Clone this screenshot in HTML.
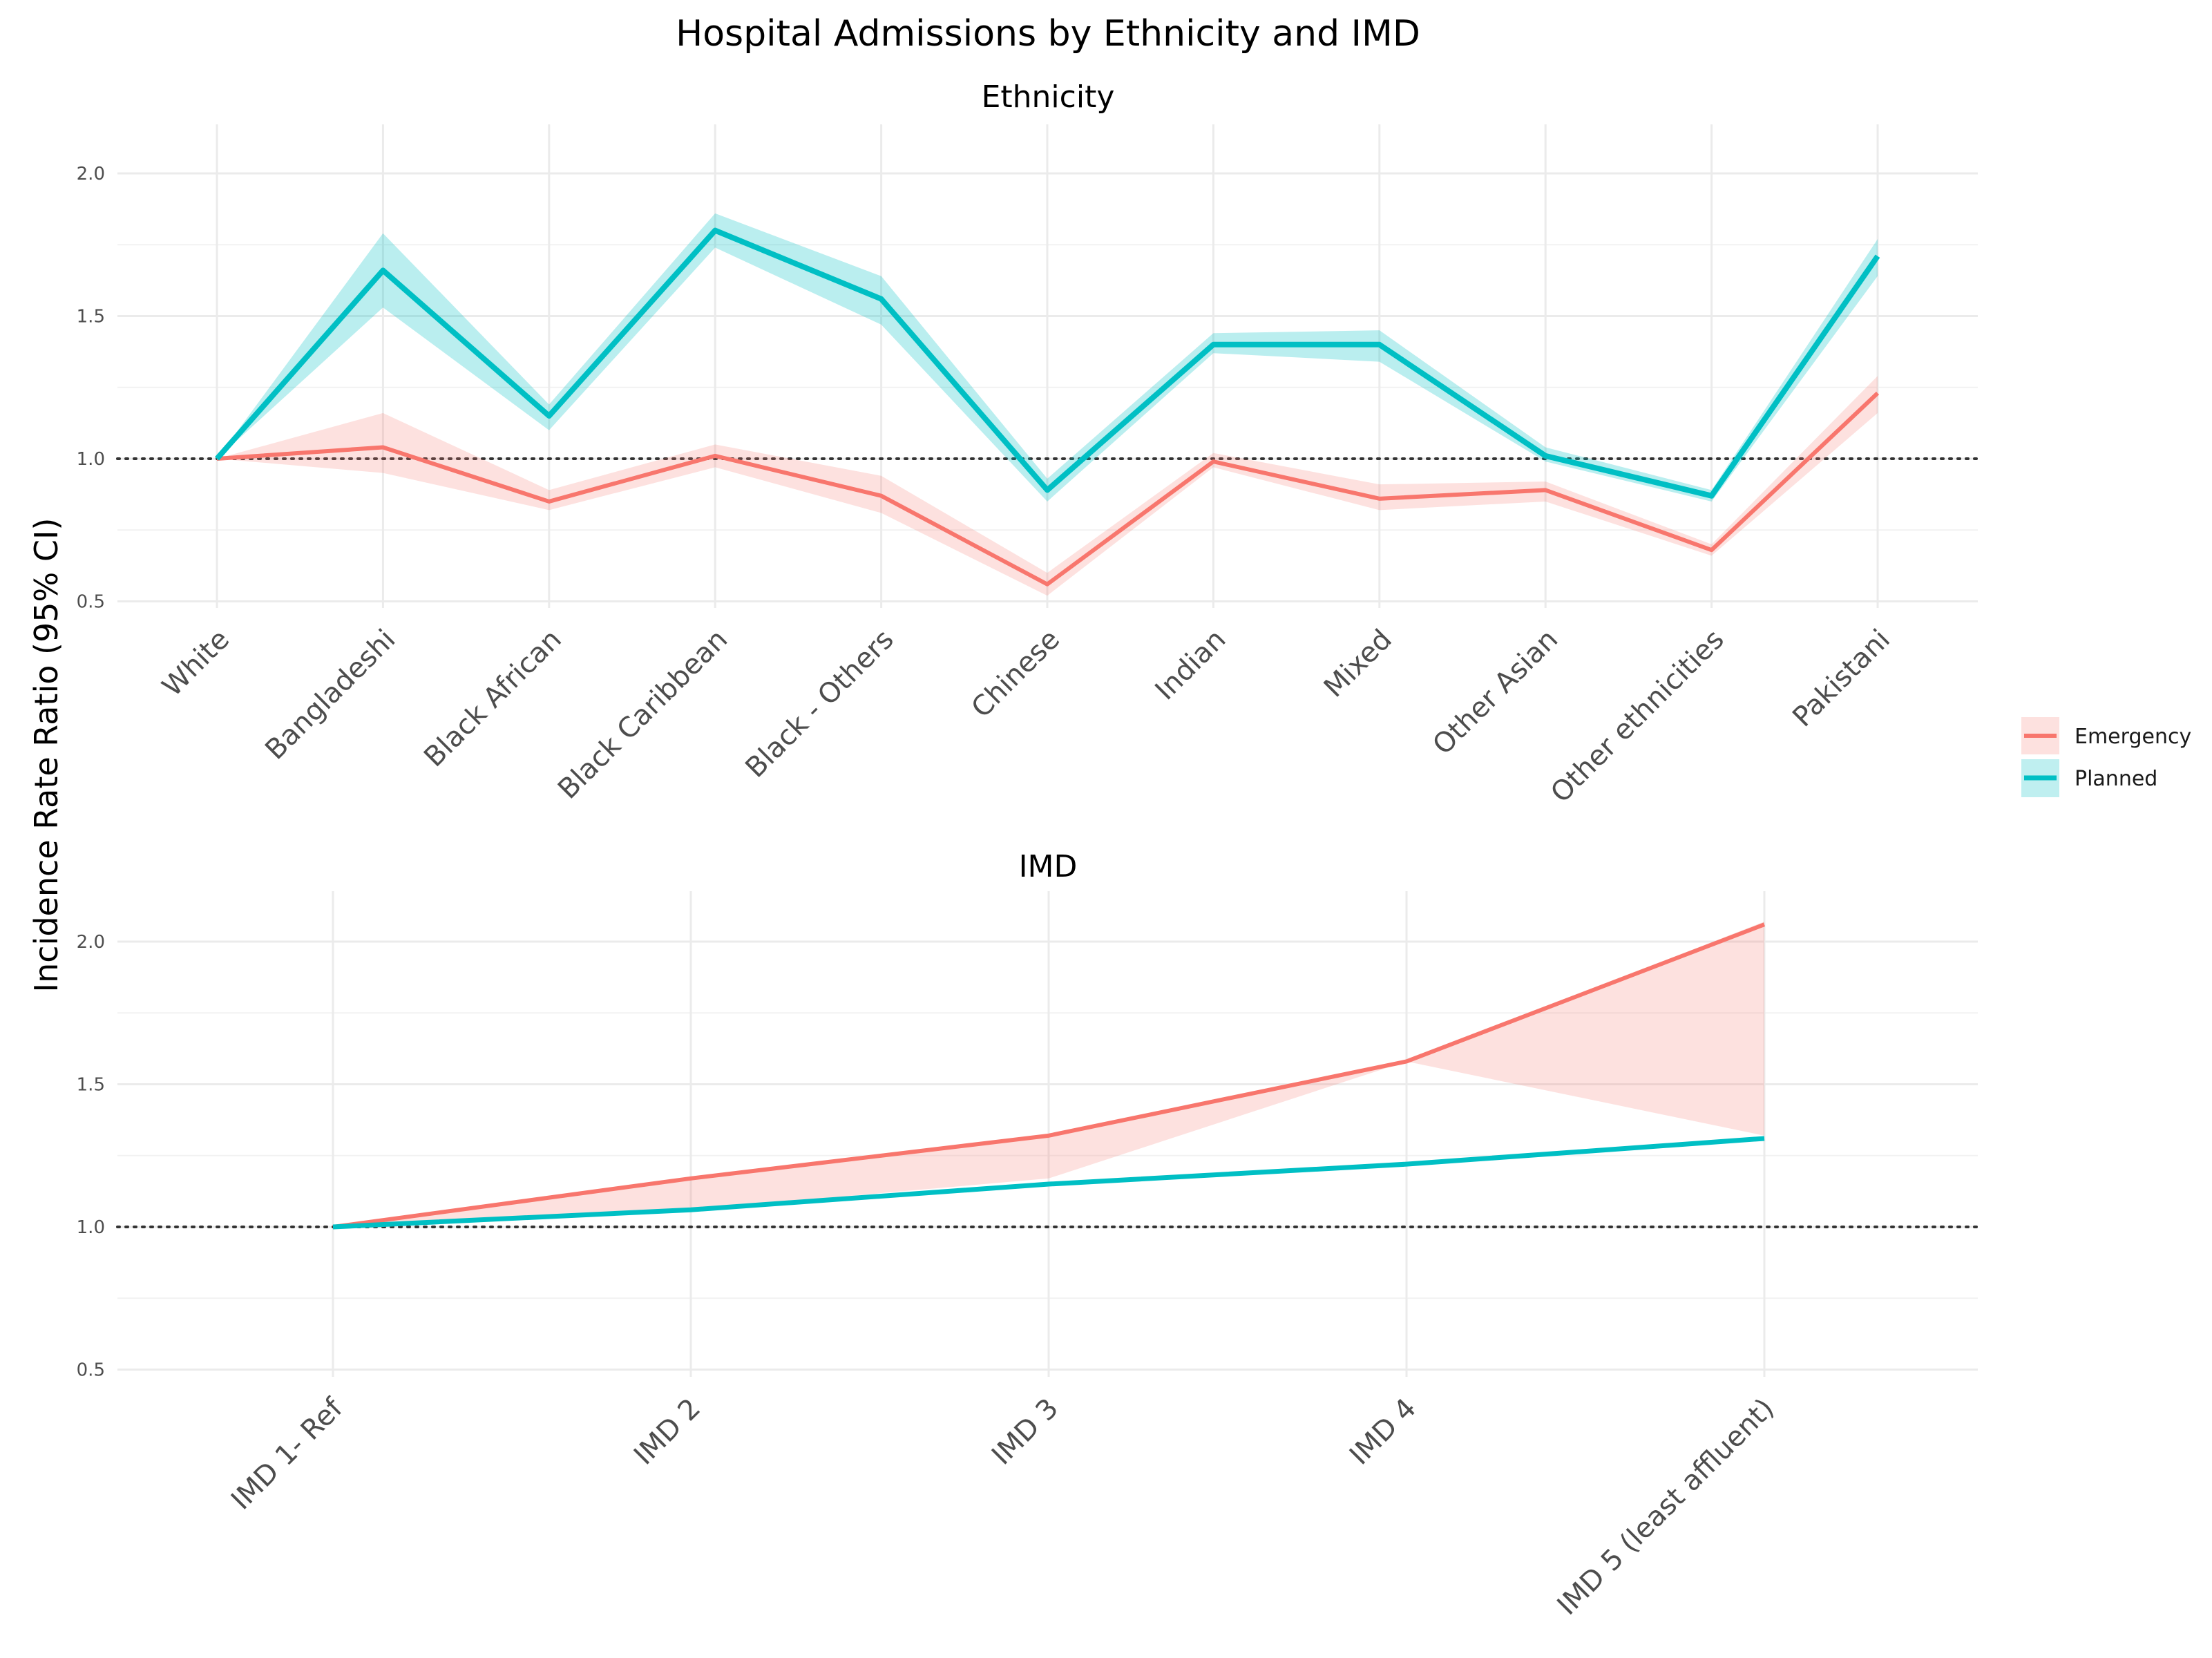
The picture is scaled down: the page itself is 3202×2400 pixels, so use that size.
<!DOCTYPE html>
<html><head><meta charset="utf-8"><style>
html,body{margin:0;padding:0;background:#fff;}
svg{display:block;font-family:"DejaVu Sans","Liberation Sans",sans-serif;}
</style></head><body>
<svg id="chart" width="3202" height="2400" viewBox="0 0 3202 2400" xmlns="http://www.w3.org/2000/svg">
<text x="1517" y="66" font-size="52" text-anchor="middle" fill="#000">Hospital Admissions by Ethnicity and IMD</text>
<text x="1517" y="155" font-size="44" text-anchor="middle" fill="#000">Ethnicity</text>
<text x="1517" y="1269" font-size="44" text-anchor="middle" fill="#000">IMD</text>
<text transform="translate(83,1093) rotate(-90)" font-size="46" text-anchor="middle" fill="#000">Incidence Rate Ratio (95% CI)</text>
<g id="top"></g>
<g id="bot"></g>
<g>
<g>
<rect x="2926" y="1038" width="55" height="54" fill="#F8766D" fill-opacity="0.22"/>
<line x1="2930" y1="1065" x2="2977" y2="1065" stroke="#F8766D" stroke-width="6"/>
<text x="3003" y="1076" font-size="30" fill="#1a1a1a">Emergency</text></g>
<g>
<rect x="2926" y="1099" width="55" height="55" fill="#00BFC4" fill-opacity="0.25"/>
<line x1="2930" y1="1126" x2="2977" y2="1126" stroke="#00BFC4" stroke-width="7"/>
<text x="3003" y="1137" font-size="30" fill="#1a1a1a">Planned</text></g>
</g>
</svg>
<script>
const ethCategories = ["White","Bangladeshi","Black African","Black Caribbean","Black - Others","Chinese","Indian","Mixed","Other Asian","Other ethnicities","Pakistani"];
const ethPlanned = [1.0,1.66,1.15,1.80,1.56,0.89,1.40,1.40,1.01,0.87,1.71];
const ethPlannedLo = [1.0,1.53,1.10,1.74,1.47,0.85,1.37,1.34,0.99,0.85,1.64];
const ethPlannedHi = [1.0,1.79,1.19,1.86,1.64,0.93,1.44,1.45,1.04,0.89,1.77];
const ethEmergency = [1.0,1.04,0.85,1.01,0.87,0.56,0.99,0.86,0.89,0.68,1.23];
const ethEmergencyLo = [1.0,0.95,0.82,0.97,0.81,0.52,0.97,0.82,0.85,0.66,1.16];
const ethEmergencyHi = [1.0,1.16,0.89,1.05,0.94,0.60,1.02,0.91,0.92,0.70,1.29];
const imdCategories = ["IMD 1- Ref","IMD 2","IMD 3","IMD 4","IMD 5 (least affluent)"];
const imdEmergency = [1.0,1.17,1.32,1.58,2.06];
const imdEmergencyLo = [1.0,1.06,1.17,1.58,1.32];
const imdEmergencyHi = [1.0,1.17,1.32,1.58,2.07];
const imdPlanned = [1.0,1.06,1.15,1.22,1.31];
const imdPlannedLo = [1.0,1.055,1.145,1.215,1.305];
const imdPlannedHi = [1.0,1.065,1.155,1.225,1.315];
const yTicks = [0.5,1.0,1.5,2.0];
const yTickLabels = ["0.5","1.0","1.5","2.0"];
const NS="http://www.w3.org/2000/svg";
function mk(parent,tag,attrs){const e=document.createElementNS(NS,tag);for(const k in attrs)e.setAttribute(k,attrs[k]);parent.appendChild(e);return e;}
function panel(g,cfg,cats,series){
  const x=i=>cfg.x0+i*cfg.dx;
  const y=v=>cfg.y1-(v-1.0)*cfg.py;
  for(let v=0.75;v<=2.0;v+=0.5){
    const l=mk(g,'line',{x1:cfg.left,x2:cfg.right,y1:y(v),y2:y(v),stroke:'#f2f2f2','stroke-width':2});
    
    
  }
  yTicks.forEach((v,i)=>{
    const l=mk(g,'line',{x1:cfg.left,x2:cfg.right,y1:y(v),y2:y(v),stroke:'#ebebeb','stroke-width':3});
    
    
    const t=mk(g,'text',{x:cfg.left-18,y:y(v)+9,'font-size':26,'text-anchor':'end',fill:'#4d4d4d'});
    t.textContent=yTickLabels[i];
    
    
  });
  cats.forEach((c,i)=>{
    const l=mk(g,'line',{x1:x(i),x2:x(i),y1:cfg.top,y2:cfg.bottom,stroke:'#ebebeb','stroke-width':3});
    
    
    const t=mk(g,'text',{transform:`translate(${x(i)+cfg.lx},${cfg.bottom+cfg.ly}) rotate(-45)`,'font-size':40,'text-anchor':'end',fill:'#4d4d4d'});
    t.textContent=c;
    
    
  });
  const ref=mk(g,'line',{x1:cfg.left,x2:cfg.right,y1:y(1),y2:y(1),stroke:'#333','stroke-width':4,'stroke-dasharray':'3 9','stroke-linecap':'round'});
  
  
  series.forEach(s=>{
    let d='';
    s.hi.forEach((v,i)=>{d+=(i?'L':'M')+x(i)+','+y(v);});
    for(let i=s.lo.length-1;i>=0;i--)d+='L'+x(i)+','+y(s.lo[i]);
    const p=mk(g,'path',{d:d+'Z',fill:s.color,'fill-opacity':s.op});
    
    
  });
  series.forEach(s=>{
    const pts=s.v.map((v,i)=>x(i)+','+y(v)).join(' ');
    const l=mk(g,'polyline',{points:pts,fill:'none',stroke:s.color,'stroke-width':s.w,'stroke-linejoin':'round'});
    
    
  });
}
panel(document.getElementById('top'),{x0:314,dx:240.4,y1:664,py:413,left:170,right:2863,top:180,bottom:880,lx:20,ly:48},ethCategories,[
  {name:'emergency',v:ethEmergency,lo:ethEmergencyLo,hi:ethEmergencyHi,color:'#F8766D',op:0.22,w:6},
  {name:'planned',v:ethPlanned,lo:ethPlannedLo,hi:ethPlannedHi,color:'#00BFC4',op:0.27,w:8}]);
panel(document.getElementById('bot'),{x0:482,dx:518,y1:1776,py:413,left:170,right:2863,top:1290,bottom:1993,lx:16,ly:48},imdCategories,[
  {name:'emergency',v:imdEmergency,lo:imdEmergencyLo,hi:imdEmergencyHi,color:'#F8766D',op:0.22,w:6},
  {name:'planned',v:imdPlanned,lo:imdPlannedLo,hi:imdPlannedHi,color:'#00BFC4',op:0.27,w:7}]);
</script>
</body></html>
